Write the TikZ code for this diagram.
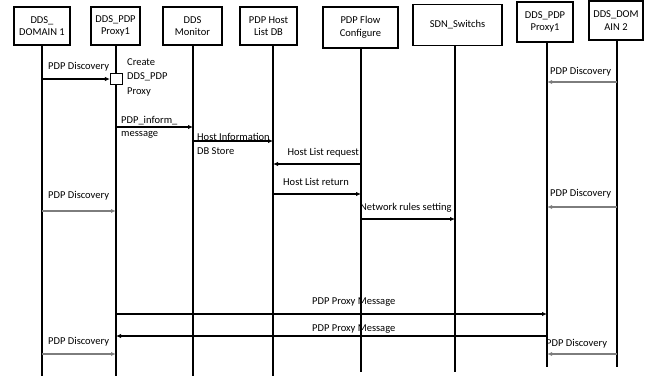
\documentclass[tikz,border=0pt]{standalone}
\usepackage{fontspec}
\setmainfont{Carlito}
\usetikzlibrary{arrows.meta,positioning,calc}
\definecolor{discgray}{RGB}{125,125,125}

\begin{document}
\begin{tikzpicture}[x=1pt,y=-1pt,
  actor/.style={draw,line width=1.3pt,align=center,font=\fontsize{10.5}{12.5}\selectfont,inner sep=1pt},
  life/.style={line width=1.2pt},
  msg/.style={line width=1.4pt,-{Latex[length=5pt,width=4.5pt]}},
  disc/.style={line width=1.3pt,discgray,-{Latex[length=5pt,width=4pt]}},
  lbl/.style={font=\fontsize{10.5}{14.5}\selectfont,inner sep=0pt,anchor=base west}]
\useasboundingbox (0,0) rectangle (656,376);

% ---------------- participants ----------------
\node[actor,minimum width=56,minimum height=38] (b1) at (42,26)    {DDS\_\\DOMAIN 1};
\node[actor,minimum width=49,minimum height=38] (b2) at (115.5,26) {DDS\_PDP\\Proxy1};
\node[actor,minimum width=59,minimum height=38] (b3) at (192.5,26) {DDS\\Monitor};
\node[actor,minimum width=57,minimum height=38] (b4) at (268.5,26) {PDP Host\\List DB};
\node[actor,minimum width=75,minimum height=41] (b5) at (360.5,27.5) {PDP Flow\\Configure};
\node[actor,minimum width=89,minimum height=41] (b6) at (457.5,25) {SDN\_Switchs};
\node[actor,minimum width=56,minimum height=40] (b7) at (545,22)   {DDS\_PDP\\Proxy1};
\node[actor,minimum width=54,minimum height=39] (b8) at (616,20.5) {DDS\_DOM\\AIN 2};

% lifeline ends
\coordinate (e1) at (42,376);
\coordinate (e2) at (116,376);
\coordinate (e3) at (193,376);
\coordinate (e4) at (273,376);
\coordinate (e5) at (361,372);
\coordinate (e6) at (455,372);
\coordinate (e7) at (547,367);
\coordinate (e8) at (617,367);
\foreach \i in {1,...,8}{
  \draw[life] (b\i.south -| e\i) -- (e\i);
}

% ---------------- discovery + proxy creation ----------------
\node[draw,line width=1.2pt,fill=white,minimum width=12,minimum height=11,inner sep=0pt] (act) at (116.5,79) {};
\draw[msg] (e1 |- act.west) -- (act.west);
\node[lbl] (t1) at (48,69) {PDP Discovery};
\node[lbl,align=left,anchor=north west] (t2) at (127,58) {Create\\DDS\_PDP\\Proxy};
\draw[disc] (e8 |- 0,82) -- (e7 |- 0,82);
\node[lbl] (t3) at (550,74) {PDP Discovery};

% ---------------- monitoring / host list ----------------
\draw[msg] (e2 |- 0,127) -- (e3 |- 0,127);
\node[lbl] (t4) at (121,123) {PDP\_inform\_};
\node[lbl] (t5) at (121,136) {message};
\draw[msg] (e3 |- 0,141) -- (e4 |- 0,141);
\node[lbl] (t6) at (197,140) {Host Information};
\node[lbl] (t7) at (197,154) {DB Store};
\draw[msg] (e5 |- 0,164) -- (e4 |- 0,164);
\node[lbl,anchor=base east] (t8) at (359,155) {Host List request};
\draw[msg] (e4 |- 0,194) -- (e5 |- 0,194);
\node[lbl] (t9) at (283,185) {Host List return};
\draw[msg] (e5 |- 0,219) -- (e6 |- 0,219);
\node[lbl] (t10) at (360,210) {Network rules setting};

% second discovery round
\draw[disc] (e1 |- 0,211) -- (e2 |- 0,211);
\node[lbl] (t11) at (48,198) {PDP Discovery};
\draw[disc] (e8 |- 0,207) -- (e7 |- 0,207);
\node[lbl] (t12) at (550,196) {PDP Discovery};

% ---------------- proxy messages ----------------
\draw[msg] (e2 |- 0,314) -- (e7 |- 0,314);
\node[lbl] (t13) at (312,304) {PDP Proxy Message};
\draw[msg] (e7 |- 0,336) -- (e2 |- 0,336);
\node[lbl] (t14) at (312,331) {PDP Proxy Message};
\draw[disc] (e1 |- 0,354) -- (e2 |- 0,354);
\node[lbl] (t15) at (48,344) {PDP Discovery};
\draw[disc] (e8 |- 0,354) -- (e7 |- 0,354);
\node[lbl] (t16) at (546,346) {PDP Discovery};

\end{tikzpicture}
\end{document}
